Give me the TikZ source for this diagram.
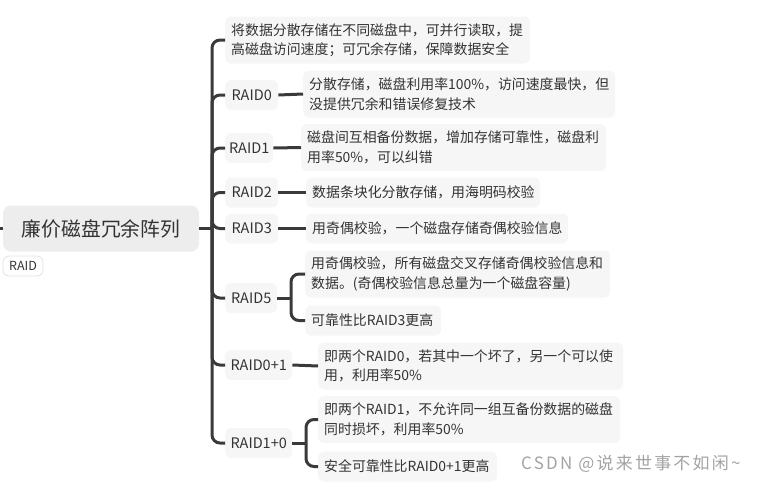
\documentclass[tikz,border=0pt]{standalone}
\usepackage{fontspec}
\setmainfont{Noto Sans CJK SC}
\newfontfamily\wmfont[LetterSpace=13]{Noto Sans CJK SC}
\definecolor{ink}{HTML}{333333}
\definecolor{conn}{HTML}{3A3A3A}
\definecolor{boxfill}{HTML}{F6F6F6}
\definecolor{mainfill}{HTML}{EDEDED}
\definecolor{tagline}{HTML}{E2E2E2}
\definecolor{wm}{HTML}{A3A3A3}
\begin{document}
\begin{tikzpicture}[x=1pt,y=-1pt,
  line/.style={draw=conn,line width=3pt},
  elbow/.style={draw=conn,line width=3pt,rounded corners=8pt},
  lbl/.style={fill=boxfill,rounded corners=6pt,inner xsep=0pt,inner ysep=0pt,
    minimum height=30pt,text=ink,font=\fontsize{14.5}{19.5}\selectfont,anchor=west},
  txt/.style={fill=boxfill,rounded corners=6pt,inner xsep=6pt,inner ysep=0pt,
    text=ink,align=left,font=\fontsize{13.9}{19.5}\selectfont,anchor=west},
  one/.style={txt,minimum height=30pt},
  two/.style={txt,minimum height=47pt}]
\useasboundingbox (0,0) rectangle (758,483);

% root
\node[fill=mainfill,rounded corners=8pt,minimum width=196pt,minimum height=46pt,
  text=ink,font=\fontsize{19.8}{24}\selectfont] (main) at (101,228.5) {廉价磁盘冗余阵列};
\node[draw=tagline,line width=0.8pt,fill=white,rounded corners=6pt,minimum width=40pt,
  minimum height=20pt,inner sep=0pt,text=ink,font=\fontsize{12.5}{14}\selectfont] (tag) at (23,266) {RAID};
\coordinate (stub) at (0,228.5);
\draw[line] (stub) -- (main.west);

\coordinate (J) at (212,228.5);
\draw[line] (main.east) -- (J);

% first level
\node[two,text width=293pt] (t0) at (225,40) {将数据分散存储在不同磁盘中，可并行读取，提\\高磁盘访问速度；可冗余存储，保障数据安全};
\node[lbl,minimum width=53pt] (r0) at (225,95) {RAID0};
\node[lbl,minimum width=48pt] (r1) at (225,148) {RAID1};
\node[lbl,minimum width=53pt] (r2) at (225,192.5) {RAID2};
\node[lbl,minimum width=53pt] (r3) at (225,228.5) {RAID3};
\node[lbl,minimum width=52pt] (r5) at (225,298) {RAID5};
\node[lbl,minimum width=67pt] (r01) at (225,365) {RAID0+1};
\node[lbl,minimum width=67pt] (r10) at (225,443) {RAID1+0};

\foreach \n in {t0,r0,r1,r2,r3,r5,r01,r10}
  \draw[elbow] (J) |- (\n.west);

% second level
\node[two,text width=300pt] (d0) at (303,94) {分散存储，磁盘利用率100\%，访问速度最快，但\\没提供冗余和错误修复技术};
\node[two,text width=293pt] (d1) at (301,147.5) {磁盘间互相备份数据，增加存储可靠性，磁盘利\\用率50\%，可以纠错};
\node[one,text width=222pt] (d2) at (306,192.5) {数据条块化分散存储，用海明码校验};
\node[one,text width=250pt] (d3) at (306,228.5) {用奇偶校验，一个磁盘存储奇偶校验信息};
\node[two,text width=293pt] (d5a) at (305,274) {用奇偶校验，所有磁盘交叉存储奇偶校验信息和\\数据。(奇偶校验信息总量为一个磁盘容量)};
\node[one,text width=124pt] (d5b) at (305,320.5) {可靠性比RAID3更高};
\node[two,text width=293pt] (d01) at (318,366) {即两个RAID0，若其中一个坏了，另一个可以使\\用，利用率50\%};
\node[two,text width=290pt] (d10a) at (318,419.5) {即两个RAID1，不允许同一组互备份数据的磁盘\\同时损坏，利用率50\%};
\node[one,text width=167pt] (d10b) at (318,466.5) {安全可靠性比RAID0+1更高};

\draw[line] (r0.east) -- (d0.west);
\draw[line] (r1.east) -- (d1.west);
\draw[line] (r2.east) -- (d2.west);
\draw[line] (r3.east) -- (d3.west);
\draw[line] (r01.east) -- (d01.west);

\coordinate (F5) at (291,298);
\draw[line] (r5.east) -- (F5);
\draw[elbow] (F5) |- (d5a.west);
\draw[elbow] (F5) |- (d5b.west);

\coordinate (F10) at (306,443);
\draw[line] (r10.east) -- (F10);
\draw[elbow] (F10) |- (d10a.west);
\draw[elbow] (F10) |- (d10b.west);

% watermark
\node[anchor=west,inner sep=0pt,text=wm,font=\wmfont\fontsize{17}{20}\selectfont] (wmk) at (521,464) {CSDN @说来世事不如闲\textasciitilde};
\end{tikzpicture}
\end{document}
